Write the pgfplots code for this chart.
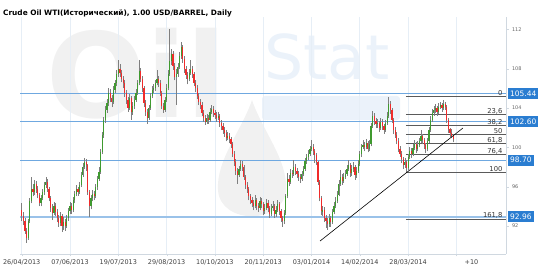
\documentclass[border=0pt]{standalone}
\usepackage{pgfplots}
\pgfplotsset{compat=1.18}
\usepackage{pgfplotstable}
\usepackage{fontspec}
\setmainfont{DejaVu Sans}
\definecolor{upg}{HTML}{3F9A2F}
\definecolor{dnr}{HTML}{F02B2B}
\definecolor{wick}{HTML}{7F7F7F}
\definecolor{lvl}{HTML}{6FA8E0}
\definecolor{lvlbox}{HTML}{2A7DD1}
\definecolor{fib}{HTML}{5A5A5A}
\definecolor{gridc}{HTML}{E6EEF6}
\definecolor{axc}{HTML}{D0D8E0}
\definecolor{wmgray}{HTML}{F1F1F1}
\definecolor{wmblue}{HTML}{EBF2FA}
\pgfplotstableread{
o h l c
93.6 94.3 92.5 93.0
93.0 93.4 92.1 92.5
92.5 92.8 91.2 91.5
91.5 91.8 90.3 90.8
90.8 92.7 90.6 92.5
92.5 94.8 92.3 94.5
94.5 97.0 94.3 95.8
95.8 96.3 95.0 95.5
95.5 96.7 95.2 96.3
96.3 96.6 95.4 95.8
95.8 96.1 94.8 95.2
95.2 95.4 94.0 94.3
94.3 95.2 94.0 94.8
94.8 95.8 94.6 95.5
95.5 96.5 95.2 96.2
96.2 97.0 95.9 96.5
96.5 96.8 95.5 95.8
95.8 96.0 94.5 94.8
94.8 95.0 93.4 93.8
93.8 94.2 92.6 93.3
93.3 94.4 93.1 94.0
94.0 94.3 93.0 93.4
93.4 93.7 92.4 92.8
92.8 93.1 91.9 92.3
92.3 93.4 92.0 93.0
93.0 93.2 91.4 92.0
92.0 92.9 91.6 92.4
92.4 92.7 91.5 92.0
92.0 93.1 91.8 92.8
92.8 93.8 92.5 93.5
93.5 94.4 93.2 94.0
94.0 94.3 93.2 93.6
93.6 94.9 93.4 94.6
94.6 95.6 94.3 95.3
95.3 96.2 95.0 95.8
95.8 96.0 95.1 95.5
95.5 96.5 95.3 96.2
96.2 97.5 96.0 97.2
97.2 98.4 97.0 98.0
98.0 98.9 97.8 98.5
98.5 98.8 97.6 98.2
98.2 98.3 95.2 95.5
95.5 95.7 92.9 94.0
94.0 95.2 93.7 94.8
94.8 95.7 94.5 95.3
95.3 95.6 94.6 95.0
95.0 96.3 94.8 96.0
96.0 97.1 95.7 96.8
96.8 98.0 96.6 97.5
97.5 99.8 97.3 99.5
99.5 101.6 99.3 101.3
101.3 103.1 101.0 102.8
102.8 104.2 102.5 103.8
103.8 104.9 103.5 104.5
104.5 106.0 104.2 105.5
105.5 105.9 104.6 105.0
105.0 105.3 104.1 104.6
104.6 106.2 104.4 105.8
105.8 106.9 105.5 106.5
106.5 107.9 106.2 107.5
107.5 108.9 107.2 108.0
108.0 108.5 107.2 107.6
107.6 107.9 106.6 107.0
107.0 107.3 106.0 106.5
106.5 106.8 105.1 105.5
105.5 105.8 104.4 104.8
104.8 105.1 103.6 104.0
104.0 105.4 103.8 105.0
105.0 105.2 102.8 103.6
103.6 104.6 103.3 104.2
104.2 105.2 103.9 104.8
104.8 105.9 104.6 105.5
105.5 106.9 105.3 106.5
106.5 108.9 106.3 107.8
107.8 108.1 106.6 107.0
107.0 107.3 105.6 106.0
106.0 106.2 104.1 104.5
104.5 104.8 103.2 103.6
103.6 103.9 102.4 103.0
103.0 104.3 102.8 104.0
104.0 105.5 103.8 105.2
105.2 106.2 105.0 105.8
105.8 106.4 105.5 106.0
106.0 106.9 105.7 106.5
106.5 107.9 106.3 107.0
107.0 107.3 106.1 106.5
106.5 106.8 105.2 105.5
105.5 105.7 103.9 104.2
104.2 104.5 103.5 103.8
103.8 105.1 103.6 104.8
104.8 106.4 104.6 106.0
106.0 107.9 105.8 107.5
107.5 112.0 107.3 108.8
108.8 110.0 108.4 109.5
109.5 109.8 107.9 108.3
108.3 108.6 106.8 107.2
107.2 108.0 104.3 107.5
107.5 108.6 107.2 108.2
108.2 109.7 108.0 109.3
109.3 110.7 109.0 110.2
110.2 110.4 108.6 109.0
109.0 109.3 107.6 108.0
108.0 108.3 107.0 107.4
107.4 107.7 106.4 107.0
107.0 108.0 106.7 107.6
107.6 108.9 107.4 108.0
108.0 108.3 107.1 107.5
107.5 107.7 106.2 106.5
106.5 106.8 105.6 106.0
106.0 106.3 104.9 105.2
105.2 105.5 104.3 104.6
104.6 104.9 103.9 104.3
104.3 104.6 103.2 103.5
103.5 103.8 102.6 103.0
103.0 103.3 102.3 102.6
102.6 103.4 102.4 103.0
103.0 103.3 102.4 102.8
102.8 104.0 102.6 103.6
103.6 104.3 103.4 103.9
103.9 104.2 103.1 103.5
103.5 103.8 102.9 103.3
103.3 103.6 102.6 103.0
103.0 103.6 102.8 103.2
103.2 103.4 102.1 102.5
102.5 102.8 101.8 102.2
102.2 102.5 101.4 101.8
101.8 102.1 101.1 101.5
101.5 101.8 100.6 101.0
101.0 101.6 100.7 101.2
101.2 101.5 100.4 100.8
100.8 101.1 99.9 100.3
100.3 100.5 99.0 99.3
99.3 99.6 98.1 98.5
98.5 98.8 97.2 97.6
97.6 97.9 96.3 97.2
97.2 98.1 97.0 97.8
97.8 98.7 97.6 98.3
98.3 98.6 97.6 98.0
98.0 98.2 96.7 97.0
97.0 97.2 95.8 96.2
96.2 96.5 95.4 95.8
95.8 96.0 94.6 95.0
95.0 95.3 94.2 94.6
94.6 94.9 93.9 94.3
94.3 94.6 93.6 94.0
94.0 95.2 93.8 94.6
94.6 94.8 93.6 94.0
94.0 94.3 93.4 93.8
93.8 94.9 93.6 94.5
94.5 94.8 93.8 94.2
94.2 94.4 93.1 93.5
93.5 94.2 93.2 93.8
93.8 94.7 93.6 94.3
94.3 94.6 93.4 93.8
93.8 94.0 92.8 93.2
93.2 94.2 93.0 93.8
93.8 94.5 93.5 94.0
94.0 94.2 92.8 93.2
93.2 94.0 92.9 93.6
93.6 94.6 93.4 94.2
94.2 94.4 93.1 93.5
93.5 93.7 92.4 92.8
92.8 93.0 91.9 92.5
92.5 93.6 92.2 93.3
93.3 95.3 93.1 95.0
95.0 97.4 94.8 96.8
96.8 97.2 96.1 96.5
96.5 97.8 96.3 97.4
97.4 97.7 96.9 97.3
97.3 98.7 97.1 98.0
98.0 98.3 97.2 97.6
97.6 97.9 96.9 97.3
97.3 97.6 96.6 97.0
97.0 97.3 96.4 96.8
96.8 97.6 96.6 97.3
97.3 98.1 97.1 97.8
97.8 98.9 97.6 98.6
98.6 99.3 98.3 99.0
99.0 99.7 98.7 99.3
99.3 100.1 99.1 99.8
99.8 100.7 99.6 100.0
100.0 100.3 99.2 99.6
99.6 99.8 98.4 99.2
99.2 99.4 98.2 98.5
98.5 98.6 96.2 96.5
96.5 96.7 94.5 94.8
94.8 95.0 93.1 93.5
93.5 94.0 93.0 93.6
93.6 93.9 92.4 92.8
92.8 93.1 91.8 92.5
92.5 92.8 91.6 92.2
92.2 93.2 91.9 92.8
92.8 93.0 91.9 92.4
92.4 93.7 92.2 93.4
93.4 94.4 93.2 94.0
94.0 94.9 93.8 94.5
94.5 95.6 94.3 95.2
95.2 96.7 95.0 96.3
96.3 97.7 96.1 97.0
97.0 97.3 96.2 96.6
96.6 97.4 96.4 97.0
97.0 97.7 96.8 97.3
97.3 98.2 97.1 97.8
97.8 98.7 97.6 98.2
98.2 98.4 97.0 97.4
97.4 98.2 97.1 97.8
97.8 98.5 97.5 98.0
98.0 98.2 96.7 97.2
97.2 98.0 96.9 97.6
97.6 98.7 97.4 98.3
98.3 99.6 98.1 99.3
99.3 100.3 99.0 100.0
100.0 100.7 99.8 100.2
100.2 100.5 99.6 100.0
100.0 100.8 99.8 100.4
100.4 100.6 99.5 99.8
99.8 100.7 99.6 100.3
100.3 102.5 100.1 102.2
102.2 103.7 102.0 103.2
103.2 103.5 102.3 102.7
102.7 103.0 102.0 102.4
102.4 102.9 102.0 102.5
102.5 102.7 101.6 102.0
102.0 103.0 101.8 102.6
102.6 102.9 101.8 102.2
102.2 102.4 101.4 101.8
101.8 102.8 101.6 102.5
102.5 103.6 102.3 103.2
103.2 105.15 103.0 104.4
104.4 104.7 103.4 103.8
103.8 104.0 102.5 102.8
102.8 103.0 101.4 101.8
101.8 102.1 101.0 101.3
101.3 101.6 100.3 100.6
100.6 100.9 99.5 99.8
99.8 100.1 99.0 99.3
99.3 99.6 98.4 98.8
98.8 99.0 97.8 98.2
98.2 98.9 97.9 98.5
98.5 98.7 97.45 97.9
97.9 99.3 97.7 99.0
99.0 100.0 98.8 99.6
99.6 99.9 98.9 99.3
99.3 100.3 99.1 99.9
99.9 100.7 99.7 100.3
100.3 100.5 99.4 99.8
99.8 100.6 99.6 100.2
100.2 101.0 100.0 100.6
100.6 101.8 100.4 101.2
101.2 101.4 100.3 100.7
100.7 100.9 99.8 100.2
100.2 100.4 99.4 99.8
99.8 100.9 99.6 100.6
100.6 102.1 100.4 101.8
101.8 103.2 101.6 102.8
102.8 103.9 102.6 103.5
103.5 104.2 103.2 103.8
103.8 104.4 103.5 104.0
104.0 104.2 103.2 103.6
103.6 104.5 103.4 104.1
104.1 104.6 103.9 104.3
104.3 104.5 103.6 104.0
104.0 104.8 103.8 104.4
104.4 104.6 103.8 104.1
104.1 104.3 102.5 102.8
102.8 103.0 101.5 101.9
101.9 102.0 101.1 101.5
101.5 101.9 100.9 101.2
101.2 101.4 100.5 100.8
}\oil
\begin{document}
\begin{tikzpicture}
\path[use as bounding box] (0,0) rectangle (550bp,273bp);
% watermark
\node[anchor=base west, text=wmgray, font=\bfseries\fontsize{118}{118}\selectfont, inner sep=0] at (46bp,273bp-118bp) {Oil};
\fill[wmblue, rounded corners=3bp] (262bp,273bp-96bp) rectangle (400bp,273bp-120bp);
\node[anchor=base west, text=wmblue, font=\fontsize{62}{62}\selectfont, inner sep=0] at (264bp,273bp-80bp) {Stat};
\fill[wmgray] (252bp,273bp-100bp) .. controls (262bp,273bp-130bp) and (288bp,273bp-160bp) .. (286bp,273bp-190bp) .. controls (284bp,273bp-225bp) and (220bp,273bp-225bp) .. (218bp,273bp-190bp) .. controls (216bp,273bp-160bp) and (242bp,273bp-130bp) .. cycle;
\node[anchor=base west, font=\bfseries\fontsize{7.4}{8}\selectfont, inner sep=0] at (3bp,273bp-16bp) {Crude Oil WTI(Исторический), 1.00 USD/BARREL, Daily};
\begin{axis}[
  at={(20bp,19bp)}, anchor=south west,
  scale only axis, width=486bp, height=237bp,
  xmin=-1.06, xmax=300.8, ymin=89.15, ymax=113.26,
  axis x line*=bottom, axis y line*=right,
  axis line style={draw=axc},
  tick align=outside, major tick length=2.5bp,
  tick style={draw=axc},
  xtick={0,30,...,240},
  xticklabels={26/04/2013,07/06/2013,19/07/2013,29/08/2013,10/10/2013,20/11/2013,03/01/2014,14/02/2014,28/03/2014},
  extra x ticks={270}, extra x tick labels={+10},
  extra x tick style={grid=major, xticklabel style={xshift=15bp}},
  xticklabel style={font=\fontsize{6.5}{7}\selectfont, text=black!75},
  ytick={92,96,100,104,108,112},
  yticklabel style={font=\fontsize{5}{6}\selectfont, text=black!60},
  /pgf/number format/assume math mode=true,
  xmajorgrids, major grid style={draw=gridc, line width=0.8bp},
  clip=false,
]
% level lines
\addplot[lvl, line width=1.1bp, forget plot] coordinates {(-1.06,105.44) (300.8,105.44)};
\addplot[lvl, line width=1.1bp, forget plot] coordinates {(-1.06,102.60) (300.8,102.60)};
\addplot[lvl, line width=1.1bp, forget plot] coordinates {(-1.06,98.70) (300.8,98.70)};
\addplot[lvl!70, line width=2bp, forget plot] coordinates {(-1.06,92.96) (300.8,92.96)};
% fibonacci
\addplot[fib, line width=0.9bp] coordinates {(238.6,105.15) (300.8,105.15)};
\addplot[fib, line width=0.9bp] coordinates {(238.6,103.33) (300.8,103.33)};
\addplot[fib, line width=0.9bp] coordinates {(238.6,102.21) (300.8,102.21)};
\addplot[fib, line width=0.9bp] coordinates {(238.6,101.30) (300.8,101.30)};
\addplot[fib, line width=0.9bp] coordinates {(238.6,100.39) (300.8,100.39)};
\addplot[fib, line width=0.9bp] coordinates {(238.6,99.27) (300.8,99.27)};
\addplot[fib, line width=0.9bp] coordinates {(238.6,97.45) (300.8,97.45)};
\addplot[fib, line width=0.9bp] coordinates {(238.6,92.69) (300.8,92.69)};
% wicks
\addplot[draw=none, mark=none, error bars/.cd, y dir=plus, y explicit, error mark=none,
  error bar style={draw=wick, line width=0.7bp}]
  table[x expr=\coordindex, y=l, y error expr=\thisrow{h}-\thisrow{l}] {\oil};
% up bodies
\addplot[draw=none, mark=none, restrict y to domain=80:120, error bars/.cd, y dir=both, y explicit, error mark=none,
  error bar style={draw=upg, line width=1.2bp}]
  table[x expr=\coordindex, y expr={ifthenelse(\thisrow{c}>\thisrow{o}, 0.5*(\thisrow{o}+\thisrow{c}), -1000)}, y error expr={0.5*abs(\thisrow{c}-\thisrow{o})}] {\oil};
% down bodies
\addplot[draw=none, mark=none, restrict y to domain=80:120, error bars/.cd, y dir=both, y explicit, error mark=none,
  error bar style={draw=dnr, line width=1.2bp}]
  table[x expr=\coordindex, y expr={ifthenelse(\thisrow{c}<\thisrow{o}, 0.5*(\thisrow{o}+\thisrow{c}), -1000)}, y error expr={0.5*abs(\thisrow{c}-\thisrow{o})}] {\oil};
% trend line
\addplot[black, line width=0.6bp] coordinates {(185.3,90.47) (274,101.96)};
% fib labels
\begin{scope}[every node/.style={anchor=south east, font=\fontsize{6.8}{7}\selectfont, text=black!80, inner sep=0.5bp}]
\node at (axis cs:299,105.15) {0};
\node at (axis cs:299,103.33) {23,6};
\node at (axis cs:299,102.21) {38,2};
\node at (axis cs:299,101.30) {50};
\node at (axis cs:299,100.39) {61,8};
\node at (axis cs:299,99.27) {76,4};
\node at (axis cs:299,97.45) {100};
\node at (axis cs:299,92.69) {161,8};
\end{scope}
% level boxes
\begin{scope}[every node/.style={anchor=west, fill=lvlbox, text=white, font=\fontsize{7.5}{8}\selectfont, inner xsep=2bp, inner ysep=0pt, minimum height=11bp, xshift=2bp}]
\node at (axis cs:300.8,105.44) {105.44};
\node at (axis cs:300.8,102.60) {102.60};
\node at (axis cs:300.8,98.70) {98.70};
\node at (axis cs:300.8,92.96) {92.96};
\end{scope}
\end{axis}
\end{tikzpicture}
\end{document}
